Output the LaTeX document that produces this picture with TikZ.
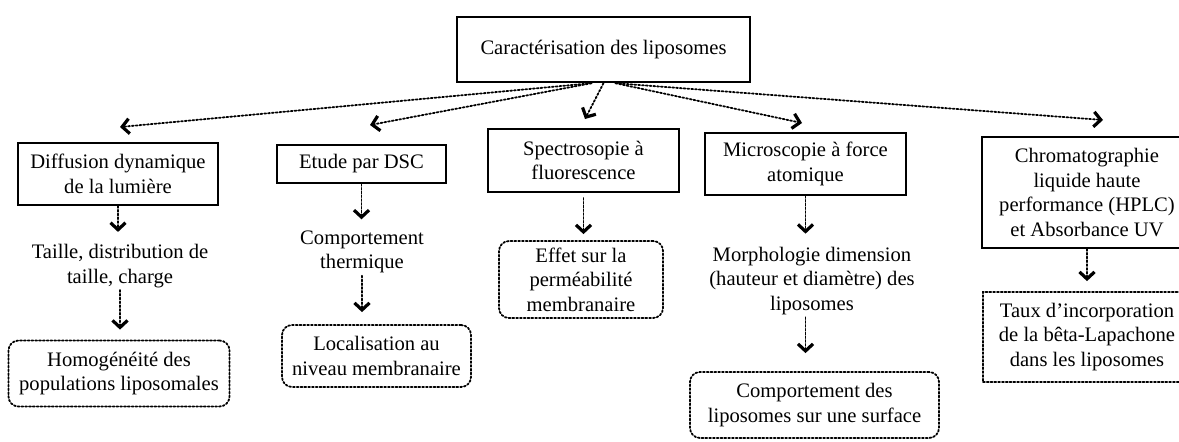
\documentclass[tikz,border=0pt]{standalone}
\usepackage{fontspec}
\setmainfont{Liberation Serif}
\usetikzlibrary{arrows.meta}

\begin{document}
\begin{tikzpicture}[x=0.5pt,y=-0.5pt,>={Straight Barb[length=3.5pt,width=7.5pt,line width=1.6pt]},
  font=\fontsize{10.3}{12.3}\selectfont,line cap=round,
  titre/.style={draw,line width=1pt,align=center,inner sep=1pt},
  resultat/.style={draw,densely dotted,line width=0.9pt,rounded corners=5pt,align=center,inner sep=1pt},
  texte/.style={align=center,inner sep=1pt},
  fleche/.style={->,densely dotted,line width=0.9pt,shorten >=5pt}]
\useasboundingbox (0,0) rectangle (1179,441);
% racine
\node[titre,line width=1.2pt,minimum width=146.5pt,minimum height=32.5pt] (carac) at (603.5,49.5) {Caractérisation des liposomes};
% methodes
\node[titre,minimum width=100pt,minimum height=31pt] (diffusion) at (118,174) {Diffusion dynamique\\de la lumière};
\node[titre,minimum width=84.5pt,minimum height=19pt] (dsc) at (361.5,164) {Etude par DSC};
\node[titre,minimum width=95.5pt,minimum height=31.5pt] (spectro) at (583.5,160.5) {Spectrosopie à\\fluorescence};
\node[titre,minimum width=100.5pt,minimum height=31pt] (afm) at (805.5,164) {Microscopie à force\\atomique};
\node[titre,minimum width=105pt,minimum height=55.5pt] (hplc) at (1087,192.5) {Chromatographie\\liquide haute\\performance (HPLC)\\et Absorbance UV};
% ce qu'on mesure
\node[texte] (taille) at (120,266) {Taille, distribution de\\taille, charge};
\node[texte] (thermique) at (362,252) {Comportement\\thermique};
\node[texte] (morpho) at (812,281) {Morphologie dimension\\(hauteur et diamètre) des\\liposomes};
% resultats
\node[resultat,minimum width=110.5pt,minimum height=33pt] (homog) at (119,373.5) {Homogénéité des\\populations liposomales};
\node[resultat,minimum width=94.5pt,minimum height=31pt] (local) at (376.5,356) {Localisation au\\niveau membranaire};
\node[resultat,minimum width=82pt,minimum height=38.5pt] (permea) at (581,279.5) {Effet sur la\\perméabilité\\membranaire};
\node[resultat,minimum width=124.5pt,minimum height=33pt] (surface) at (814.5,405) {Comportement des\\liposomes sur une surface};
\node[resultat,rounded corners=0pt,minimum width=104pt,minimum height=45pt] (taux) at (1087,337) {Taux d’incorporation\\de la bêta-Lapachone\\dans les liposomes};
% bouts des fleches du haut
\coordinate (p1) at (120,127);
\coordinate (p2) at (370,125);
\coordinate (p3) at (585,119);
\coordinate (p4) at (802,123);
\coordinate (p5) at (1103,120);
\draw[fleche,shorten >=0pt] ([xshift=-6pt]carac.south) -- (p1);
\draw[fleche,shorten >=0pt] ([xshift=-6pt]carac.south) -- (p2);
\draw[fleche,shorten >=0pt] (carac.south) -- (p3);
\draw[fleche,shorten >=0pt] ([xshift=6pt]carac.south) -- (p4);
\draw[fleche,shorten >=0pt] ([xshift=6pt]carac.south) -- (p5);
% fleches verticales
\draw[fleche] (diffusion.south) -- (diffusion.south |- taille.north);
\draw[fleche] (taille.south) -- (taille.south |- homog.north);
\draw[fleche,shorten >=4.5pt] (dsc.south) -- (dsc.south |- thermique.north);
\draw[fleche,shorten >=6pt] (thermique.south) -- (thermique.south |- local.north);
\draw[fleche,shorten <=2.5pt,shorten >=3pt] (spectro.south) -- (spectro.south |- permea.north);
\draw[fleche,shorten >=5.5pt] (afm.south) -- (afm.south |- morpho.north);
\draw[fleche,shorten >=9pt] (afm.south |- morpho.south) -- (afm.south |- surface.north);
\draw[fleche] (hplc.south) -- (hplc.south |- taux.north);
\end{tikzpicture}
\end{document}
